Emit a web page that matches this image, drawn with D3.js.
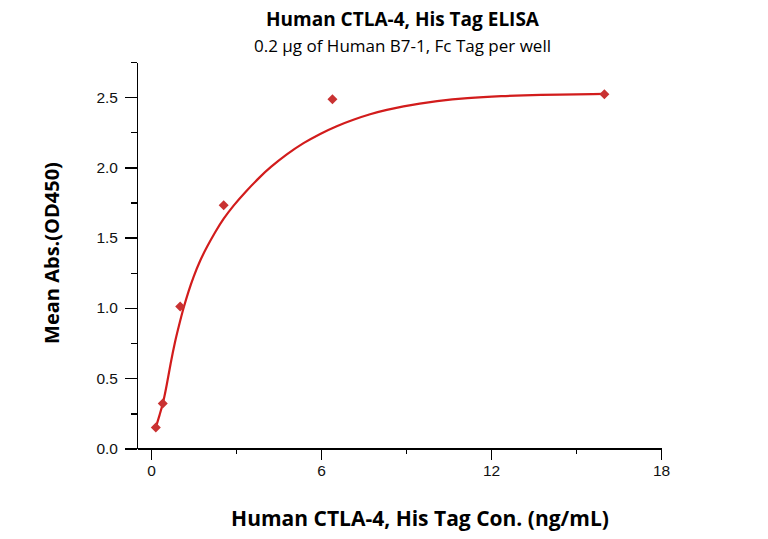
<!DOCTYPE html>
<html>
<head>
<meta charset="utf-8">
<script src="https://cdn.jsdelivr.net/npm/d3@7"></script>
<style>
  body { margin: 0; background: #fff; }
  svg { display: block; font-family: "Open Sans", Lato, sans-serif; }
</style>
</head>
<body>
<div id="chart"></div>
<script>
// measured points (concentration in ng/mL, OD450)
var concentrations = [0.164, 0.41, 1.024, 2.56, 6.4, 16];
var meanAbs = [0.15, 0.32, 1.01, 1.73, 2.485, 2.52];

// fitted curve
var fitX = [0.164, 0.30, 0.43, 0.55, 0.68, 0.85, 1.00, 1.14, 1.32, 1.49, 1.73, 1.97, 2.26,
	2.55, 2.91, 3.32, 3.85, 4.20, 4.79, 5.38, 5.97, 6.55, 7.14, 7.73, 8.32, 8.91, 9.50,
	9.98, 11.17, 12.36, 13.55, 16.0];
var fitY = [0.15, 0.24, 0.33, 0.45, 0.60, 0.77, 0.89, 1.00, 1.12, 1.22, 1.34, 1.435, 1.54,
	1.635, 1.73, 1.825, 1.935, 2.00, 2.095, 2.175, 2.24, 2.295, 2.34, 2.38, 2.41, 2.435, 2.455,
	2.47, 2.495, 2.508, 2.516, 2.523];

var xMajorTicks = [0, 6, 12, 18];
var xMinorTicks = [3, 9, 15];
var yMajorTicks = [0, 0.5, 1.0, 1.5, 2.0, 2.5];
var yMinorTicks = [0.25, 0.75, 1.25, 1.75, 2.25, 2.75];

var width = 768, height = 539;
var margin = {left: 137, right: 107, top: 62, bottom: 90};

var svg = d3.select('#chart')
	.append('svg')
	.attr('width', width)
	.attr('height', height);

var x = d3.scaleLinear().domain([-0.5, 18]).range([margin.left, width - margin.right]);
var y = d3.scaleLinear().domain([0, 2.75]).range([height - margin.bottom - 0.5, margin.top]);

// minor ticks first, then the labelled axes on top
svg.append('g')
	.attr('transform', 'translate(0,' + y(0) + ')')
	.call(d3.axisBottom(x).tickValues(xMinorTicks).tickSize(5).tickSizeOuter(0).tickFormat(''))
	.call(function(g) { g.select('.domain').remove(); });

svg.append('g')
	.attr('transform', 'translate(' + x(-0.5) + ',0)')
	.call(d3.axisLeft(y).tickValues(yMinorTicks).tickSize(6).tickSizeOuter(0).tickFormat(''))
	.call(function(g) { g.select('.domain').remove(); });

var xAxis = svg.append('g')
	.attr('transform', 'translate(0,' + y(0) + ')')
	.call(d3.axisBottom(x).tickValues(xMajorTicks).tickSize(11).tickSizeOuter(0).tickPadding(5).tickFormat(d3.format('d')));

var yAxis = svg.append('g')
	.attr('transform', 'translate(' + x(-0.5) + ',0)')
	.call(d3.axisLeft(y).tickValues(yMajorTicks).tickSize(12).tickSizeOuter(0).tickPadding(7).tickFormat(d3.format('.1f')));

svg.selectAll('.tick line, .domain')
	.style('stroke', '#000')
	.style('stroke-width', 1.4)
	.style('shape-rendering', 'crispEdges');
svg.selectAll('.tick text')
	.style('font-size', '15.5px')
	.style('fill', '#111');

// fitted curve
var line = d3.line()
	.x(function(d) { return x(d[0]); })
	.y(function(d) { return y(d[1]); })
	.curve(d3.curveBasis);

svg.append('path')
	.datum(d3.zip(fitX, fitY))
	.attr('d', line)
	.style('fill', 'none')
	.style('stroke', '#d21c1c')
	.style('stroke-width', 2.2);

// measured points as diamonds
svg.selectAll('.pt')
	.data(d3.zip(concentrations, meanAbs))
	.enter()
	.append('path')
	.attr('class', 'pt')
	.attr('d', d3.symbol().type(d3.symbolSquare).size(50))
	.attr('transform', function(d) { return 'translate(' + x(d[0]) + ',' + y(d[1]) + ') rotate(45)'; })
	.style('fill', '#c93232');

// titles
svg.append('text')
	.attr('x', 402.5).attr('y', 26)
	.attr('text-anchor', 'middle')
	.style('font-size', '19px').style('font-weight', 'bold')
	.text('Human CTLA-4, His Tag ELISA');

svg.append('text')
	.attr('x', 402.5).attr('y', 52)
	.attr('text-anchor', 'middle')
	.style('font-size', '17px')
	.text('0.2 \u03bcg of Human B7-1, Fc Tag per well');

svg.append('text')
	.attr('x', 420).attr('y', 526)
	.attr('text-anchor', 'middle')
	.style('font-size', '21px').style('font-weight', 'bold')
	.text('Human CTLA-4, His Tag Con. (ng/mL)');

svg.append('text')
	.attr('transform', 'translate(59,253) rotate(-90)')
	.attr('text-anchor', 'middle')
	.style('font-size', '20px').style('font-weight', 'bold')
	.text('Mean Abs.(OD450)');
</script>
</body>
</html>
